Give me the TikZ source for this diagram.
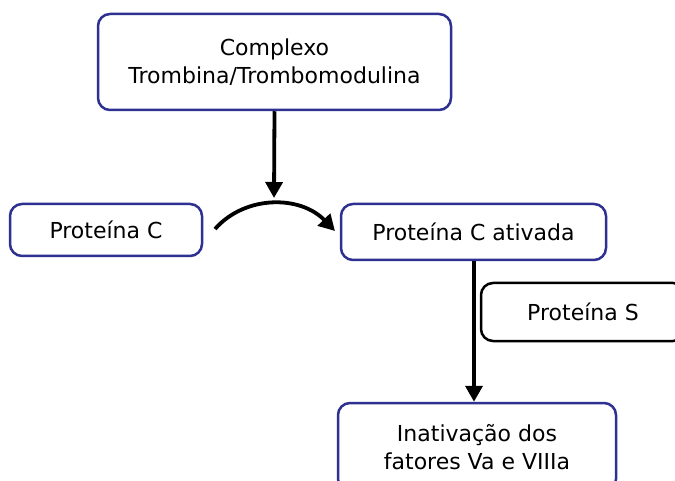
\documentclass[tikz,border=0pt]{standalone}
\usepackage{fontspec}
\setmainfont{DejaVu Sans}
\usetikzlibrary{arrows.meta}
\definecolor{boxblue}{RGB}{46,49,146}
\begin{document}
\begin{tikzpicture}[x=1pt,y=-1pt,
  box/.style={draw=boxblue, line width=2.5pt, rounded corners=12pt, fill=white,
    align=center, inner sep=0pt, font=\fontsize{22}{28}\selectfont},
  blackbox/.style={box, draw=black},
  arr/.style={line width=3.8pt, -{Triangle[width=17pt,length=16pt]}}]
\useasboundingbox (0,0) rectangle (675,481);
\clip (0,0) rectangle (675,481);
\node[box, minimum width=353pt, minimum height=96pt] (top) at (274.5,62) {Complexo\\Trombina/Trombomodulina};
\node[box, minimum width=192pt, minimum height=52pt] (pc) at (106,230) {Proteína C};
\node[box, minimum width=265pt, minimum height=56pt] (pca) at (473.5,232) {Proteína C ativada};
\node[blackbox, minimum width=204pt, minimum height=58pt] (ps) at (583,312) {Proteína S};
\node[box, minimum width=278pt, minimum height=88pt] (inat) at (477,447) {Inativação dos\\fatores Va e VIIIa};
\coordinate (peak) at (274,198);
\coordinate (cs) at (215,229);
\coordinate (ce) at (335,231);
\draw[arr] (top.south) -- (peak);
\draw[arr] (cs) .. controls (245,195) and (300,195) .. (ce);
\draw[arr] (pca.south -| 474,0) -- (inat.north -| 474,0);
\end{tikzpicture}
\end{document}
